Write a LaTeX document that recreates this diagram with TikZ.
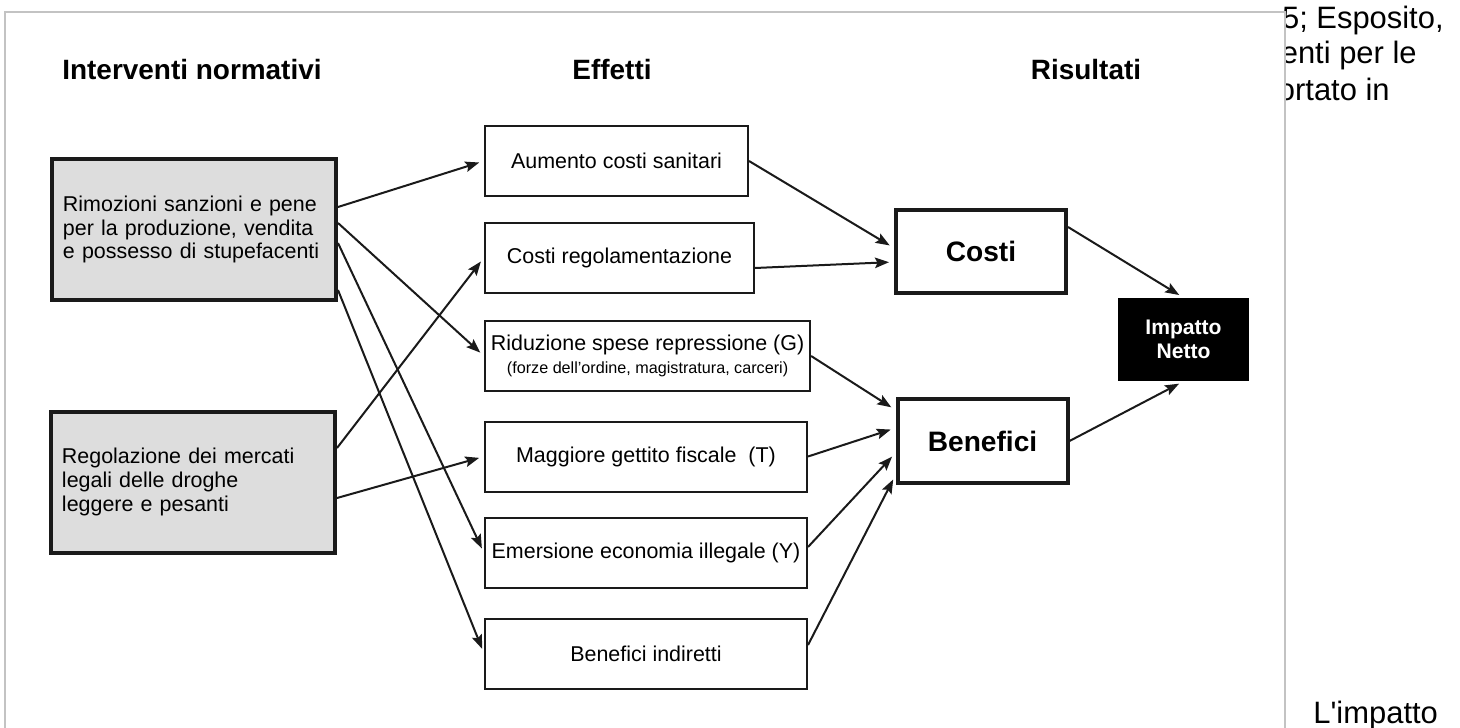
\documentclass[tikz,border=0pt]{standalone}
\usepackage{fontspec}
\setmainfont{Liberation Sans}
\newfontfamily\pgfont{Liberation Sans}[Ligatures=TeXOff]
\usetikzlibrary{arrows.meta, positioning}
\definecolor{boxgray}{RGB}{221,221,221}
\definecolor{panelgray}{RGB}{195,195,195}
\definecolor{inkdark}{RGB}{26,26,26}
\tikzset{
  hdr/.style={font=\fontsize{15.9}{18}\selectfont\bfseries},
  lft/.style={
    rectangle, draw=inkdark, line width=0.8mm, fill=boxgray,
    minimum width=56.8mm, minimum height=28.2mm, align=left,
    text width=52.4mm, font=\fontsize{12.2}{13.6}\selectfont
  },
  mid/.style={
    rectangle, draw=inkdark, line width=0.4mm, fill=white,
    minimum width=64.4mm, minimum height=14mm, align=center,
    anchor=west, font=\fontsize{12.2}{13.5}\selectfont
  },
  res/.style={
    rectangle, draw=inkdark, line width=0.8mm, fill=white,
    minimum width=34mm, minimum height=16.7mm,
    font=\fontsize{16}{18}\selectfont\bfseries
  },
  imp/.style={
    rectangle, fill=black, text=white, minimum width=26.2mm,
    minimum height=16.6mm, align=center,
    font=\fontsize{12}{13.6}\selectfont\bfseries
  },
  arr/.style={-{Stealth[length=2.8mm, width=2.1mm, inset=0.5mm]},
    line width=0.4mm, draw=inkdark, shorten >=1mm},
  pgtxt/.style={font=\pgfont\fontsize{17.6}{20}\selectfont, inner sep=0pt}
}

\begin{document}
\begin{tikzpicture}[x=0.2mm, y=-0.2mm]
  \useasboundingbox (0,0) rectangle (1460,727);

  % page text around the figure
  \node[pgtxt, anchor=base east] (pg1) at (1444,29) {5; Esposito,};
  \node[pgtxt, anchor=base east] (pg2) at (1417,64) {enti per le};
  \node[pgtxt, anchor=base east] (pg3) at (1390,100) {ortato in};
  \node[pgtxt, anchor=base west] (pg4) at (1313,723) {L'impatto};
  \draw[panelgray, line width=0.3mm, fill=white] (5,12) rectangle (1285,740);

  % column titles
  \node[hdr] (h1) at (192,70)  {Interventi normativi};
  \node[hdr] (h2) at (612,70)  {Effetti};
  \node[hdr] (h3) at (1086,70) {Risultati};

  % interventions
  \node[lft] (rim) at (194,229.5)
        {Rimozioni sanzioni e pene\\per la produzione, vendita\\e possesso di stupefacenti};
  \node[lft] (reg) at (193,482)
        {Regolazione dei mercati\\legali delle droghe\\leggere e pesanti};

  % effects
  \node[mid, minimum width=52.6mm] (aum) at (484,161) {Aumento costi sanitari};
  \node[mid, minimum width=53.8mm] (creg) at (484,257.5) {Costi regolamentazione};
  \node[mid] (rid) at (484,356)
        {Riduzione spese repressione (G)\\{\fontsize{9.2}{11}\selectfont (forze dell'ordine, magistratura, carceri)}};
  \node[mid] (mag) at (484,456.5) {Maggiore gettito fiscale~ (T)};
  \node[mid] (eme) at (484,553) {Emersione economia illegale (Y)};
  \node[mid] (ind) at (484,653.5) {Benefici indiretti};

  % results
  \node[res] (cos) at (981,251.5) {Costi};
  \node[res] (ben) at (982.5,441) {Benefici};
  \node[imp] (net) at (1183.5,339.5) {Impatto\\Netto};

  \draw[arr] ([yshift=4.5mm]rim.east)   -- (aum.west);
  \draw[arr] ([yshift=1.3mm]rim.east)   -- (rid.west);
  \draw[arr] ([yshift=-2.7mm]rim.east)  -- (eme.west);
  \draw[arr] ([yshift=-12.1mm]rim.east) -- (ind.west);
  \draw[arr] ([yshift=6.8mm]reg.east)   -- (creg.west);
  \draw[arr] ([yshift=-3.2mm]reg.east)  -- (mag.west);

  \draw[arr] (aum.east) -- ([yshift=0.7mm]cos.west);
  \draw[arr] ([yshift=-2.1mm]creg.east) -- ([yshift=-2.1mm]cos.west);
  \draw[arr] (rid.east) -- ([yshift=6.2mm]ben.west);
  \draw[arr] (mag.east) -- ([yshift=2.6mm]ben.west);
  \draw[arr] ([yshift=1.2mm]eme.east) -- ([yshift=-2.4mm]ben.west);
  \draw[arr] ([yshift=1.7mm]ind.east) -- ([yshift=-6.8mm]ben.west);

  \draw[arr] ([yshift=4.9mm]cos.east) -- (net.north);
  \draw[arr] (ben.east) -- (net.south);
\end{tikzpicture}
\end{document}
